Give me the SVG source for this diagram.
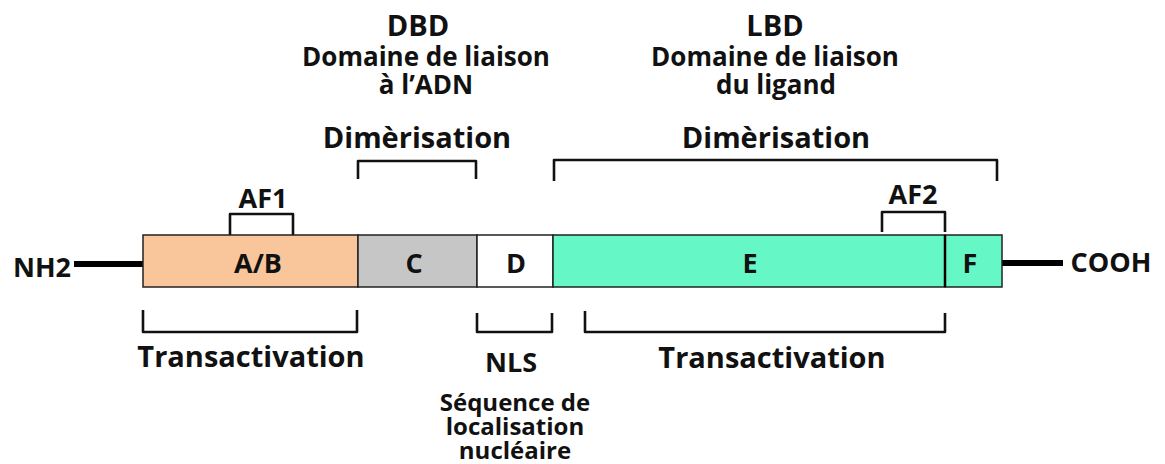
<svg xmlns="http://www.w3.org/2000/svg" width="1165" height="464" viewBox="0 0 1165 464">
<style>
text{font-family:"Open Sans","Liberation Sans",sans-serif;font-weight:bold;fill:#111;text-anchor:middle}
.b{font-size:29px}
.m{font-size:27px}
.d{font-size:26px}
.s{font-size:24px}
.dom{stroke:#222;stroke-width:1.5}
.br{fill:none;stroke:#111;stroke-width:2.6;stroke-linejoin:round}
.ln{stroke:#000;stroke-width:6}
</style>
<rect width="1165" height="464" fill="#fff"/>
<g id="connectors">
<line class="ln" x1="74" y1="264" x2="143" y2="264"/>
<line class="ln" x1="1002" y1="263" x2="1063" y2="263"/>
<path class="br" d="M230 235 V214 H293 V235"/>
<path class="br" d="M882 232 V212 H945 V232"/>
<path class="br" d="M358 179 V161 H476 V179"/>
<path class="br" d="M554 181 V160 H997 V181"/>
<path class="br" d="M143 310 V332 H357 V310"/>
<path class="br" d="M477 313 V332 H552 V313"/>
<path class="br" d="M585 311 V332 H945 V313"/>
</g>
<g id="nh2"><text class="m" x="42" y="277">NH2</text></g>
<g id="cooh"><text class="m" x="1111" y="272">COOH</text></g>
<g id="ab"><rect class="dom" x="143" y="235" width="215" height="52" fill="#f9c69b"/><text class="m" x="258" y="273">A/B</text></g>
<g id="c"><rect class="dom" x="358" y="235" width="119" height="52" fill="#c6c6c6"/><text class="m" x="414" y="273">C</text></g>
<g id="d"><rect class="dom" x="477" y="235" width="76" height="52" fill="#fff"/><text class="m" x="516" y="273">D</text></g>
<g id="e"><rect class="dom" x="553" y="235" width="392" height="52" fill="#66f7c6"/><text class="m" x="750" y="273">E</text></g>
<g id="f"><rect class="dom" x="945" y="235" width="57" height="52" fill="#66f7c6"/><line x1="945" y1="235" x2="945" y2="287" stroke="#000" stroke-width="2.5"/><text class="m" x="970" y="273">F</text></g>
<g id="af1"><text class="m" x="263" y="208">AF1</text></g>
<g id="af2"><text class="m" x="913" y="204">AF2</text></g>
<g id="dbd"><text class="b" x="418" y="36">DBD</text><text class="d" x="426" y="66">Domaine de liaison</text><text class="d" x="426" y="94">à l’ADN</text></g>
<g id="lbd"><text class="b" x="775" y="36">LBD</text><text class="d" x="775" y="66">Domaine de liaison</text><text class="d" x="776" y="94">du ligand</text></g>
<g id="dim1"><text class="b" x="417" y="148">Dimèrisation</text></g>
<g id="dim2"><text class="b" x="776" y="148">Dimèrisation</text></g>
<g id="trans1"><text class="b" x="251" y="367">Transactivation</text></g>
<g id="nls"><text class="m" x="511" y="372">NLS</text><text class="s" x="515" y="411">Séquence de</text><text class="s" x="515" y="435">localisation</text><text class="s" x="515" y="459">nucléaire</text></g>
<g id="trans2"><text class="b" x="772" y="368">Transactivation</text></g>
</svg>
